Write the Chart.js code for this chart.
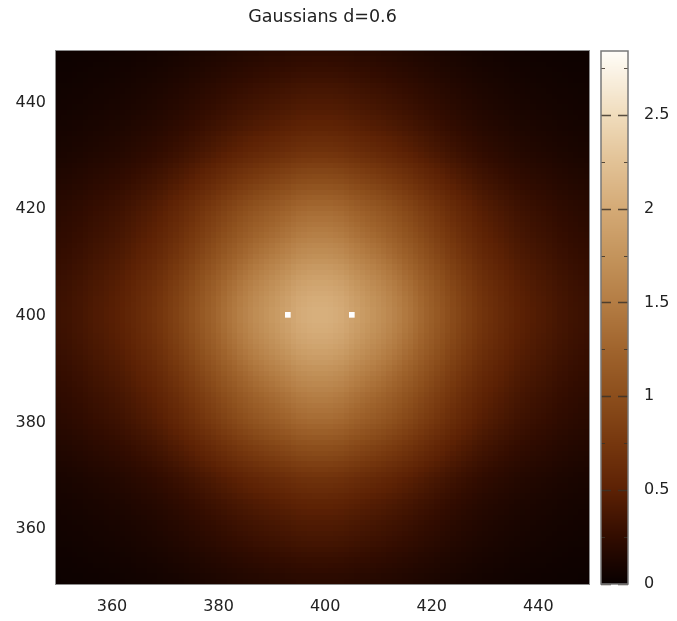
<!DOCTYPE html>
<html><head><meta charset="utf-8">
<script src="https://cdn.jsdelivr.net/npm/chart.js@4/dist/chart.umd.min.js"></script>
<style>html,body{margin:0;padding:0;background:#fff}canvas{display:block}</style>
</head><body>
<canvas id="c" width="677" height="621"></canvas>
<script>
const chartTitle = 'Gaussians d=0.6';
// cell centres (1 unit cells, as in the reference image)
const gridX = Array.from({length: 100}, (_, i) => 350 + i);
const gridY = Array.from({length: 100}, (_, i) => 350 + i);
// value read along the row y=400 for every gridX
const rowProfile = [
  0.31,0.32,0.33,0.35,0.36,0.38,0.40,0.42,0.43,0.45,
  0.47,0.49,0.51,0.54,0.57,0.60,0.63,0.66,0.69,0.73,
  0.77,0.82,0.86,0.91,0.96,1.01,1.07,1.12,1.18,1.23,
  1.29,1.35,1.41,1.46,1.52,1.57,1.62,1.67,1.71,1.75,
  1.79,1.83,1.87,1.91,1.96,2.00,2.02,2.04,2.05,2.05,
  2.05,2.04,2.02,2.00,1.96,1.91,1.87,1.83,1.79,1.75,
  1.71,1.67,1.62,1.57,1.52,1.46,1.41,1.35,1.29,1.23,
  1.18,1.12,1.07,1.01,0.96,0.91,0.86,0.82,0.77,0.73,
  0.69,0.66,0.63,0.60,0.57,0.54,0.51,0.49,0.47,0.45,
  0.43,0.42,0.40,0.38,0.36,0.35,0.33,0.32,0.31,0.30
];
// relative fall-off read along the column x=399 for every gridY
const colFactor = [
  0.100,0.105,0.115,0.125,0.135,0.145,0.157,0.170,0.180,0.190,
  0.200,0.210,0.222,0.235,0.248,0.260,0.280,0.300,0.315,0.330,
  0.355,0.380,0.410,0.440,0.465,0.490,0.520,0.550,0.580,0.610,
  0.635,0.660,0.680,0.700,0.720,0.740,0.765,0.790,0.810,0.830,
  0.855,0.880,0.900,0.920,0.940,0.955,0.970,0.985,0.990,1.000,
  1.000,1.000,0.990,0.985,0.970,0.955,0.940,0.920,0.900,0.880,
  0.855,0.830,0.810,0.790,0.765,0.740,0.720,0.700,0.680,0.660,
  0.635,0.610,0.580,0.550,0.520,0.490,0.465,0.440,0.410,0.380,
  0.355,0.330,0.315,0.300,0.280,0.260,0.248,0.235,0.222,0.210,
  0.200,0.190,0.180,0.170,0.157,0.145,0.135,0.125,0.115,0.105
];
const sourceX = [393, 405];
const sourceY = [400, 400];
const xTicks = [360, 380, 400, 420, 440];
const yTicks = [360, 380, 400, 420, 440];
const cbTicks = [0, 0.5, 1, 1.5, 2, 2.5];
const cbMinor = [0.25, 0.75, 1.25, 1.75, 2.25, 2.75];
const cbRange = [0, 2.84];
const axisRange = [349.5, 449.5];
const paletteValues = [0, 0.25, 0.5, 0.75, 1.0, 1.25, 1.5, 1.75, 2.0, 2.25, 2.5, 2.84];
const paletteColors = [
  [8,0,0],[50,12,0],[92,33,4],[118,55,14],[140,78,28],[160,100,45],
  [180,125,68],[196,148,92],[212,170,118],[226,194,150],[240,220,188],[255,253,248]
];

const cells = [];
gridY.forEach((y, j) => gridX.forEach((x, i) => cells.push({x, y, v: rowProfile[i] * colFactor[j]})));

function colorFor(v) {
  if (v <= paletteValues[0]) return `rgb(${paletteColors[0].join(',')})`;
  for (let k = 1; k < paletteValues.length; k++) {
    if (v <= paletteValues[k]) {
      const t = (v - paletteValues[k-1]) / (paletteValues[k] - paletteValues[k-1]);
      const a = paletteColors[k-1], b = paletteColors[k];
      return `rgb(${a.map((c, n) => Math.round(c + (b[n] - c) * t)).join(',')})`;
    }
  }
  return `rgb(${paletteColors[paletteColors.length-1].join(',')})`;
}

const heatmapPlugin = {
  id: 'heatmap',
  beforeDatasetsDraw(chart) {
    const {ctx, chartArea: a, scales: {x: xs, y: ys}} = chart;
    ctx.save();
    ctx.beginPath(); ctx.rect(a.left, a.top, a.right - a.left, a.bottom - a.top); ctx.clip();
    for (const c of cells) {
      const x0 = Math.round(xs.getPixelForValue(c.x - 0.5)), x1 = Math.round(xs.getPixelForValue(c.x + 0.5));
      const y0 = Math.round(ys.getPixelForValue(c.y + 0.5)), y1 = Math.round(ys.getPixelForValue(c.y - 0.5));
      ctx.fillStyle = colorFor(c.v);
      ctx.fillRect(x0, y0, x1 - x0, y1 - y0);
    }
    ctx.restore();
    ctx.save();
    ctx.strokeStyle = 'rgba(140,140,140,1)';
    ctx.lineWidth = 1;
    ctx.strokeRect(Math.round(a.left) - 0.5, Math.round(a.top) - 0.5, Math.round(a.right - a.left) + 1, Math.round(a.bottom - a.top) + 1);
    ctx.restore();
  },
  afterDraw(chart) {
    const {ctx} = chart;
    const cb = chart.scales.cb;
    const x0 = cb.left + 12, x1 = cb.left + 39;
    const top = Math.round(cb.top), bottom = Math.round(cb.bottom);
    ctx.save();
    for (let py = top; py < bottom; py++) {
      ctx.fillStyle = colorFor(cb.getValueForPixel(py + 0.5));
      ctx.fillRect(x0, py, x1 - x0, 1);
    }
    ctx.strokeStyle = 'rgba(60,50,40,0.85)';
    ctx.lineWidth = 1.5;
    for (const t of cbTicks) {
      const py = Math.round(cb.getPixelForValue(t)) + 0.5;
      ctx.beginPath();
      ctx.moveTo(x0, py); ctx.lineTo(x0 + 10, py);
      ctx.moveTo(x1 - 10, py); ctx.lineTo(x1, py);
      ctx.stroke();
    }
    ctx.lineWidth = 1;
    for (const t of cbMinor) {
      if (t > cbRange[1]) continue;
      const py = Math.round(cb.getPixelForValue(t)) + 0.5;
      ctx.beginPath();
      ctx.moveTo(x0, py); ctx.lineTo(x0 + 4, py);
      ctx.moveTo(x1 - 4, py); ctx.lineTo(x1, py);
      ctx.stroke();
    }
    ctx.strokeStyle = 'rgba(120,120,120,1)';
    ctx.lineWidth = 1.5;
    ctx.strokeRect(x0, top, x1 - x0, bottom - top);
    ctx.restore();
  }
};

const font = {family: "'DejaVu Sans', sans-serif", size: 16};
const txt = '#222';
function fixBox(w, h) {
  return s => {
    if (w !== null) s.width = w;
    if (h !== null) s.height = h;
    s.paddingLeft = s.paddingRight = s.paddingTop = s.paddingBottom = 0;
  };
}

new Chart(document.getElementById('c'), {
  type: 'scatter',
  data: {
    datasets: [
      {
        data: sourceX.map((x, i) => ({x, y: sourceY[i]})),
        pointStyle: 'rect', pointRadius: 4, pointHoverRadius: 4,
        backgroundColor: '#ffffff', borderColor: '#ffffff', borderWidth: 0,
        xAxisID: 'x', yAxisID: 'y'
      },
      { data: [], xAxisID: 'x', yAxisID: 'cb' }
    ]
  },
  options: {
    responsive: false,
    animation: false,
    devicePixelRatio: 1,
    layout: {padding: 0, autoPadding: false},
    plugins: {
      legend: {display: false},
      tooltip: {enabled: false},
      title: {
        display: true, text: chartTitle, fullSize: false,
        color: txt, font: {family: font.family, size: 17.5, weight: 'normal', lineHeight: 1.2},
        padding: {top: 6.5, bottom: 23.5}
      }
    },
    scales: {
      x: {
        type: 'linear', position: 'bottom', min: axisRange[0], max: axisRange[1],
        grid: {display: false, drawTicks: false}, border: {display: false},
        ticks: {color: txt, font, padding: 13, maxRotation: 0, callback: v => String(v)},
        afterBuildTicks: s => { s.ticks = xTicks.map(v => ({value: v})); },
        afterFit: fixBox(null, 37)
      },
      y: {
        type: 'linear', position: 'left', min: axisRange[0], max: axisRange[1],
        grid: {display: false, drawTicks: false}, border: {display: false},
        ticks: {color: txt, font, padding: 10, labelOffset: 1, callback: v => String(v)},
        afterBuildTicks: s => { s.ticks = yTicks.map(v => ({value: v})); },
        afterFit: fixBox(56, null)
      },
      cb: {
        type: 'linear', position: 'right', min: cbRange[0], max: cbRange[1],
        grid: {display: false, drawTicks: false}, border: {display: false},
        ticks: {color: txt, font, padding: 55, callback: v => String(v)},
        afterBuildTicks: s => { s.ticks = cbTicks.map(v => ({value: v})); },
        afterFit: fixBox(88, null)
      }
    }
  },
  plugins: [heatmapPlugin]
});
</script>
</body></html>
